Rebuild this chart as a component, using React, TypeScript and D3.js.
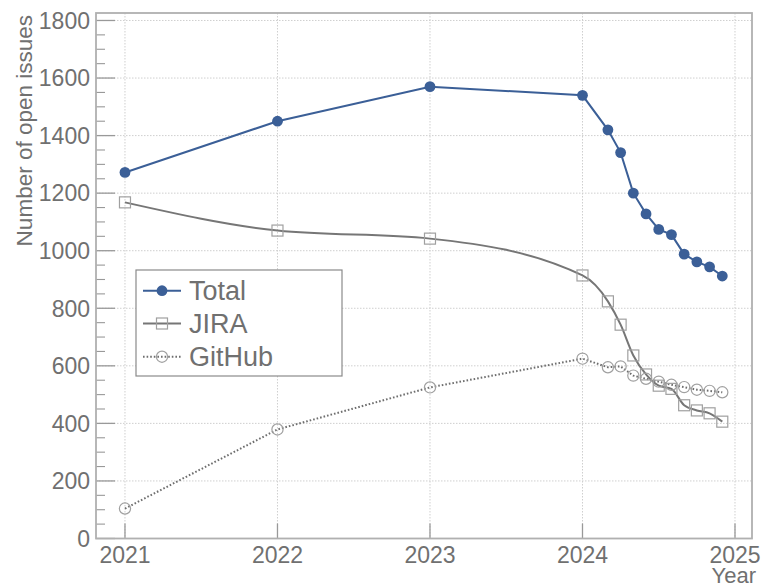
import React from "react";
import * as d3 from "d3";

const dates = ["2021-01", "2022-01", "2023-01", "2024-01", "2024-03", "2024-04", "2024-05", "2024-06", "2024-07", "2024-08", "2024-09", "2024-10", "2024-11", "2024-12"];
const totalValues = [1272, 1450, 1570, 1540, 1420, 1341, 1200, 1128, 1074, 1056, 988, 961, 944, 912];
const jiraValues = [1168, 1070, 1042, 914, 824, 743, 636, 570, 531, 520, 463, 445, 435, 406];
const githubValues = [104, 379, 525, 625, 595, 598, 566, 555, 545, 534, 526, 517, 513, 508];
const xTickYears = [2021, 2022, 2023, 2024, 2025];
const yTickValues = [0, 200, 400, 600, 800, 1000, 1200, 1400, 1600, 1800];
const seriesNames = ["Total", "JIRA", "GitHub"];

const W = 763;
const H = 584;
const plot = { left: 96, right: 752, top: 13, bottom: 538.5 };
const FONT = "'Liberation Sans', Arial, Helvetica, sans-serif";
const TEXT = "#707070";

function toYear(s: string): number {
  const [y, m] = s.split("-").map(Number);
  return y + (m - 1) / 12;
}

export default function App() {
  const x = d3.scaleLinear().domain([2020.81, 2025.1115]).range([plot.left, plot.right]);
  const y = d3.scaleLinear().domain([0, 1826]).range([plot.bottom, plot.top]);
  const xs = dates.map(toYear);

  const mk = (vals: number[]) => vals.map((v, i) => [xs[i], v] as [number, number]);
  const total = mk(totalValues);
  const jira = mk(jiraValues);
  const github = mk(githubValues);

  const linear = d3.line<[number, number]>().x((d) => x(d[0])).y((d) => y(d[1]));
  const smooth = d3.line<[number, number]>().x((d) => x(d[0])).y((d) => y(d[1])).curve(d3.curveMonotoneX);

  const minorY = d3.range(0, 1826, 50).filter((v) => v % 200 !== 0);

  const blue = "#3b5f97";
  const legend = { x: 136, y: 270, w: 206, h: 106 };
  const rowY = [290.7, 323.5, 356.7];

  return (
    <svg width={W} height={H} style={{ position: "absolute", left: 0, top: 0, background: "#fff" }} fontFamily={FONT}>
      <rect x={0} y={0} width={W} height={H} fill="#fff" />
      {/* gridlines */}
      {yTickValues.map((v) => (
        <line key={"gy" + v} x1={plot.left} x2={plot.right} y1={y(v)} y2={y(v)} stroke="#cfcfcf" strokeWidth={1} strokeDasharray="1.5,1.5" />
      ))}
      {xTickYears.map((v) => (
        <line key={"gx" + v} x1={x(v)} x2={x(v)} y1={plot.top} y2={plot.bottom} stroke="#cfcfcf" strokeWidth={1} strokeDasharray="1.5,1.5" />
      ))}
      {/* ticks */}
      {yTickValues.map((v) => (
        <line key={"ty" + v} x1={plot.left} x2={plot.left + 19} y1={y(v)} y2={y(v)} stroke="#999" strokeWidth={1.3} />
      ))}
      {minorY.map((v) => (
        <line key={"my" + v} x1={plot.left} x2={plot.left + 9} y1={y(v)} y2={y(v)} stroke="#999" strokeWidth={1.1} />
      ))}
      {xTickYears.map((v) => (
        <line key={"tx" + v} x1={x(v)} x2={x(v)} y1={plot.bottom} y2={plot.bottom - 15} stroke="#999" strokeWidth={1.3} />
      ))}
      {/* frame */}
      <rect x={plot.left} y={plot.top} width={plot.right - plot.left} height={plot.bottom - plot.top} fill="none" stroke="#b0b0b0" strokeWidth={1.8} />
      {/* tick labels */}
      {yTickValues.map((v) => (
        <text key={"ly" + v} x={90} y={y(v)} dy="0.36em" textAnchor="end" fontSize={23} fill={TEXT}>
          {v}
        </text>
      ))}
      {xTickYears.map((v) => (
        <text key={"lx" + v} x={x(v)} y={563} textAnchor="middle" fontSize={23} fill={TEXT}>
          {v}
        </text>
      ))}
      <text x={756} y={583} textAnchor="end" fontSize={22} fill={TEXT}>
        Year
      </text>
      <text transform="translate(32,15) rotate(-90)" textAnchor="end" fontSize={22.5} fill={TEXT}>
        Number of open issues
      </text>

      {/* series lines */}
      <path d={smooth(jira) || ""} fill="none" stroke="#767676" strokeWidth={2} />
      <path d={linear(github) || ""} fill="none" stroke="#6e6e6e" strokeWidth={2} strokeDasharray="1.6,2" />
      <path d={linear(total) || ""} fill="none" stroke={blue} strokeWidth={2} />
      {/* markers */}
      {jira.map((d, i) => (
        <rect key={"js" + i} x={x(d[0]) - 5.5} y={y(d[1]) - 5.5} width={11} height={11} fill="none" stroke="#a0a0a0" strokeWidth={1.2} />
      ))}
      {github.map((d, i) => (
        <circle key={"gc" + i} cx={x(d[0])} cy={y(d[1])} r={5.6} fill="none" stroke="#a0a0a0" strokeWidth={1.2} />
      ))}
      {total.map((d, i) => (
        <circle key={"tc" + i} cx={x(d[0])} cy={y(d[1])} r={5.4} fill={blue} />
      ))}

      {/* legend */}
      <rect x={legend.x} y={legend.y} width={legend.w} height={legend.h} fill="#fff" stroke="#8a8a8a" strokeWidth={1.2} />
      <line x1={143} x2={181} y1={rowY[0]} y2={rowY[0]} stroke={blue} strokeWidth={2} />
      <circle cx={162} cy={rowY[0]} r={5.4} fill={blue} />
      <line x1={143} x2={181} y1={rowY[1]} y2={rowY[1]} stroke="#767676" strokeWidth={2} />
      <rect x={162 - 5.5} y={rowY[1] - 5.5} width={11} height={11} fill="none" stroke="#a0a0a0" strokeWidth={1.2} />
      <line x1={143} x2={181} y1={rowY[2]} y2={rowY[2]} stroke="#6e6e6e" strokeWidth={2} strokeDasharray="1.6,2" />
      <circle cx={162} cy={rowY[2]} r={5.6} fill="none" stroke="#a0a0a0" strokeWidth={1.2} />
      {seriesNames.map((n, i) => (
        <text key={n} x={189} y={rowY[i]} dy="0.36em" fontSize={27} fill={TEXT}>
          {n}
        </text>
      ))}
    </svg>
  );
}
